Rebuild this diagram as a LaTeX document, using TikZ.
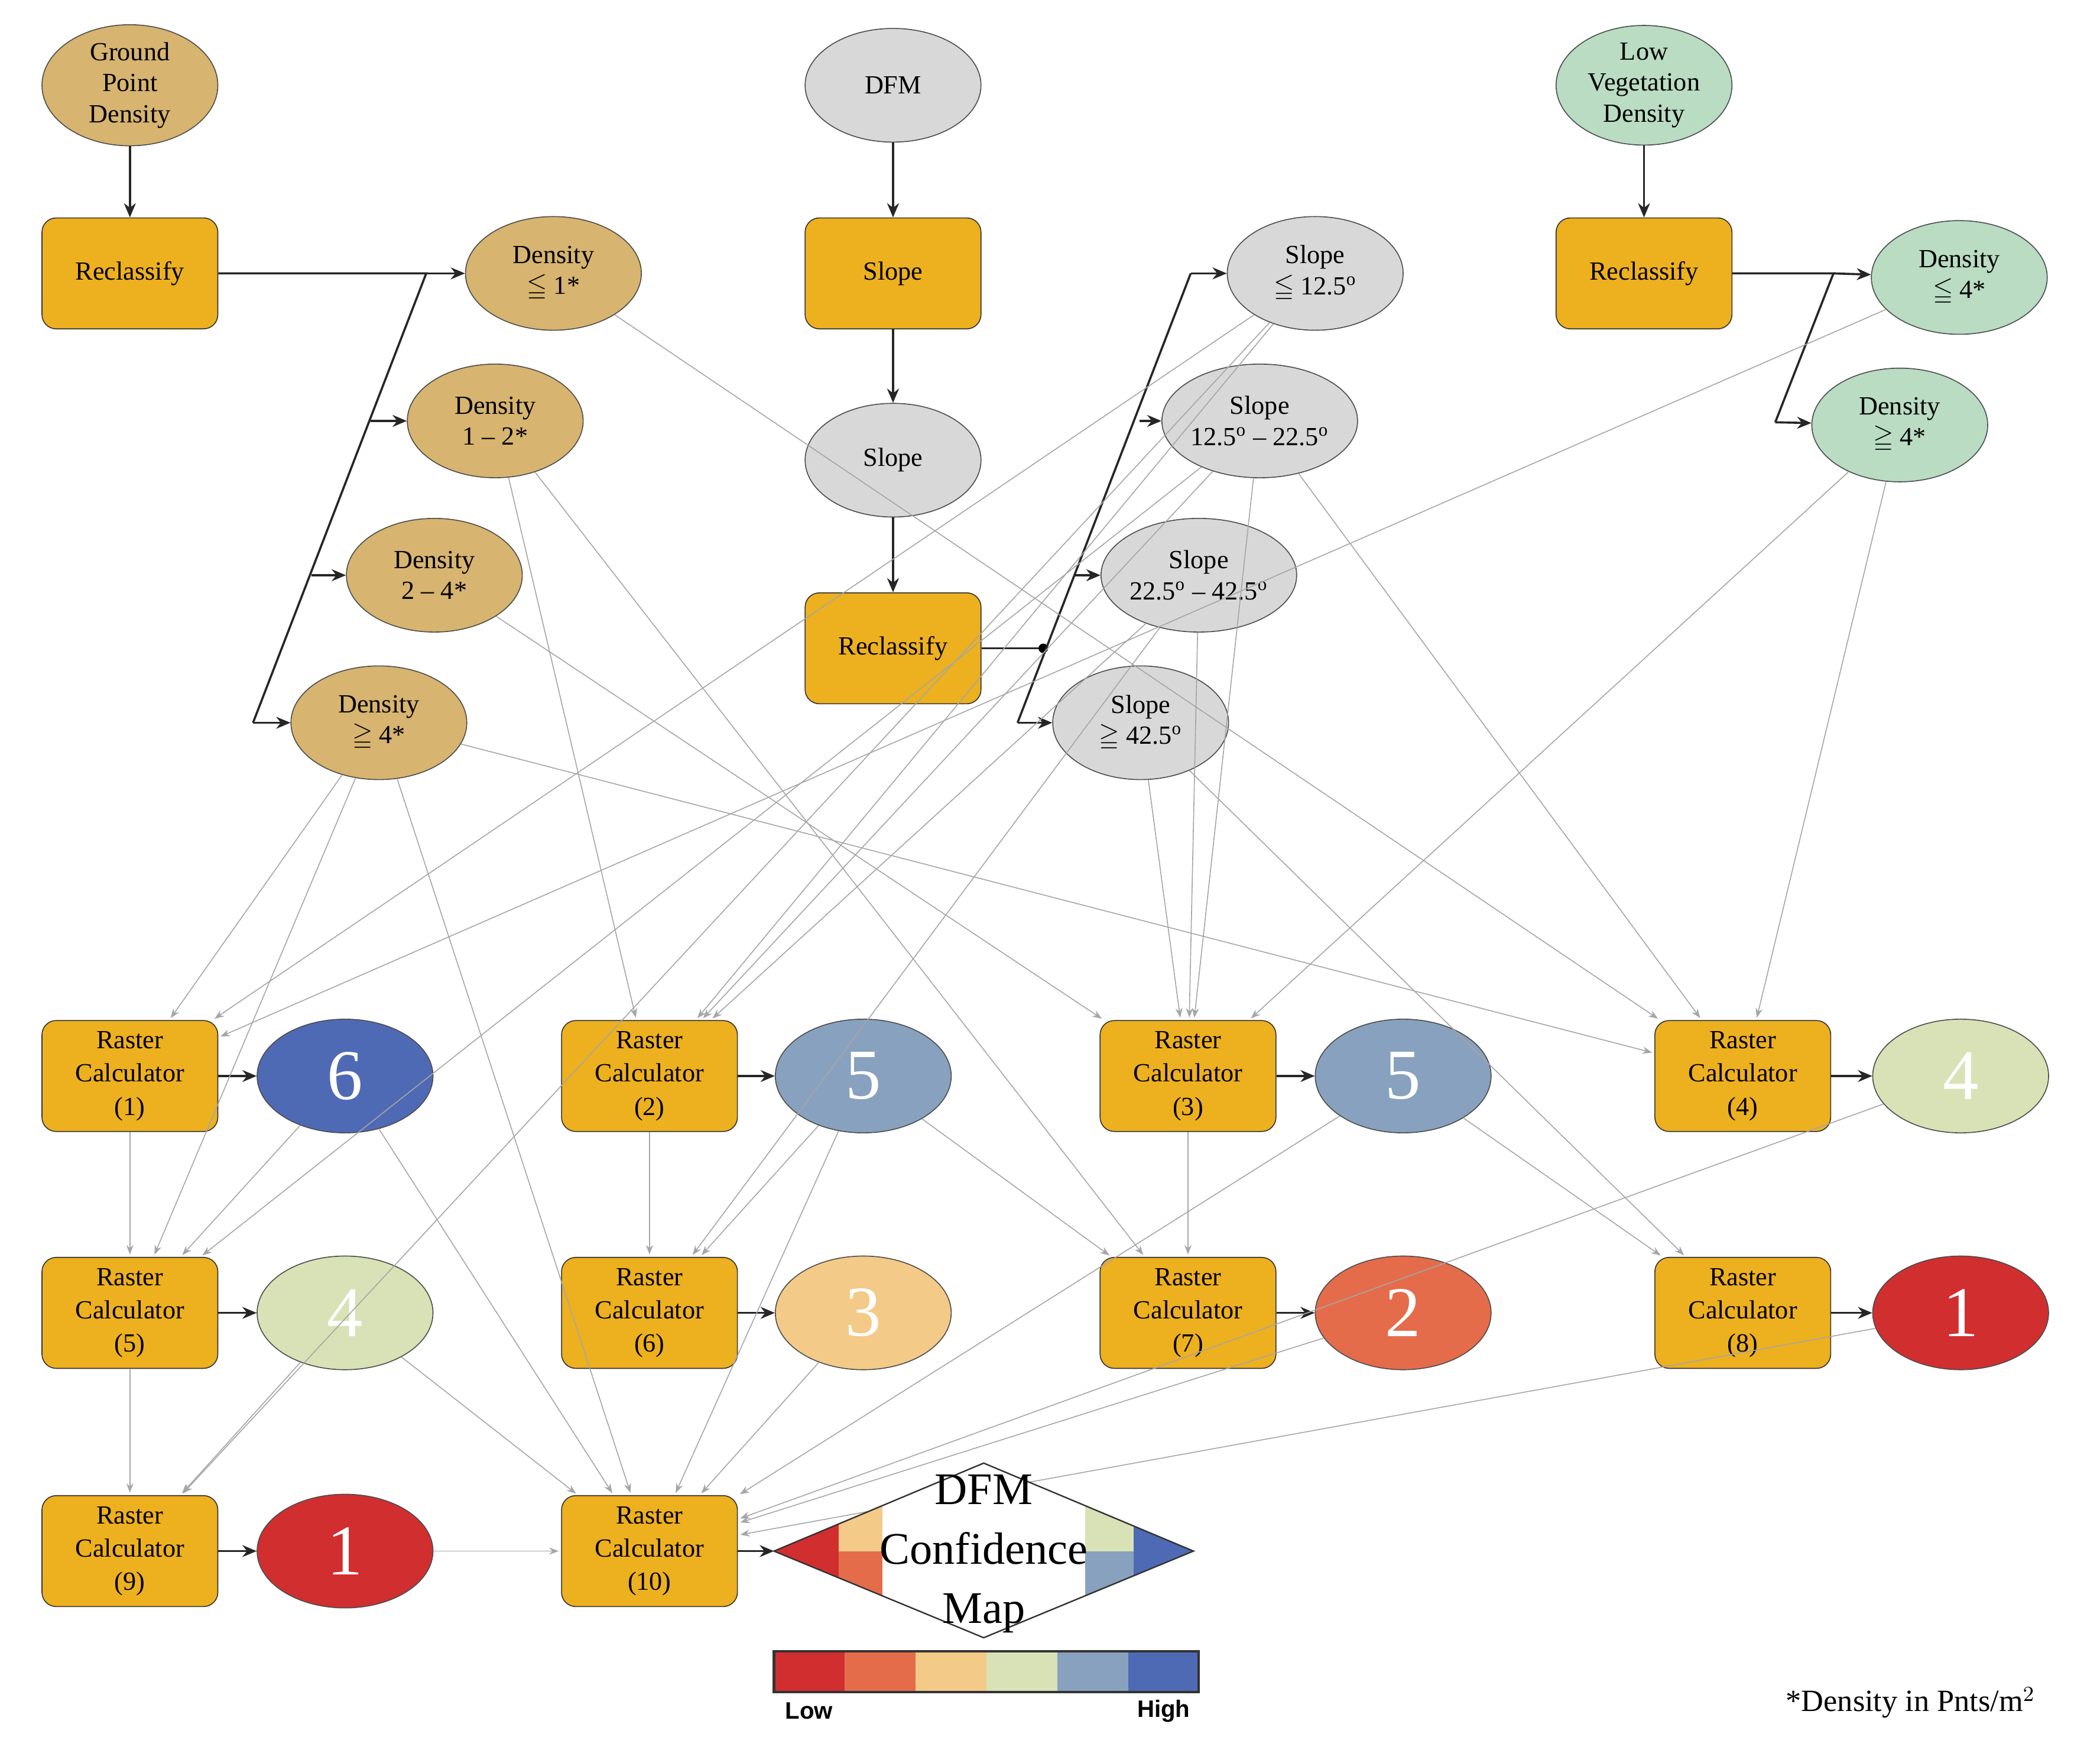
\documentclass[tikz,border=0pt]{standalone}
\usepackage{amssymb}
\usepackage{fontspec}
\setmainfont{Liberation Serif}
\newfontfamily\sansf{Liberation Sans}
\usetikzlibrary{arrows.meta,shapes.geometric}
\definecolor{cOr}{HTML}{EDB01F}
\definecolor{cTan}{HTML}{D7B46F}
\definecolor{cGr}{HTML}{D8D8D8}
\definecolor{cGn}{HTML}{B9DCC3}
\definecolor{cBl}{HTML}{4F6AB5}
\definecolor{cSt}{HTML}{88A1BE}
\definecolor{cLg}{HTML}{D8E2B6}
\definecolor{cPe}{HTML}{F4CA88}
\definecolor{cOa}{HTML}{E56C4B}
\definecolor{cRd}{HTML}{D12E30}
\tikzset{
 box/.style={draw=black!80,fill=cOr,rounded corners=6pt,minimum width=2.6cm,minimum height=1.64cm,align=center,font=\fontsize{11}{14}\selectfont},
 ell/.style={draw=black!70,ellipse,minimum width=2.6cm,minimum height=1.68cm,inner sep=0pt,align=center,font=\fontsize{11}{13}\selectfont},
 num/.style={ell,font=\fontsize{30}{30}\selectfont,text=white},
 blk/.style={draw=black!85,line width=0.9pt,-{Stealth[length=6pt,width=5pt]}},
 gry/.style={draw=black!35,line width=0.4pt,-{Stealth[length=4pt,width=3pt]},shorten >=1pt}
}
\begin{document}
\begin{tikzpicture}[x={(0.02cm,0)},y={(0,-0.02cm)}]
\useasboundingbox (0,0) rectangle (1552,1283);
% top
\node[ell,fill=cTan] (gpd) at (96,63) {Ground\\Point\\Density};
\node[box] (rc1a) at (96,202) {Reclassify};
\node[ell,fill=cTan] (d1) at (409,202) {Density\\$\leqq$ 1*};
\node[ell,fill=cTan] (d2) at (366,311) {Density\\1 -- 2*};
\node[ell,fill=cTan] (d3) at (321,425) {Density\\2 -- 4*};
\node[ell,fill=cTan] (d4) at (280,534) {Density\\$\geqq$ 4*};
\node[ell,fill=cGr] (dfm) at (660,63) {DFM};
\node[box] (slr) at (660,202) {Slope};
\node[ell,fill=cGr] (sle) at (660,340) {Slope};
\node[box] (rc2a) at (660,479) {Reclassify};
\node[ell,fill=cGr] (s1) at (972,202) {Slope\\$\leqq$ 12.5$^{\rm o}$};
\node[ell,fill=cGr] (s2) at (931,311) {Slope\\12.5$^{\rm o}$ -- 22.5$^{\rm o}$};
\node[ell,fill=cGr] (s3) at (886,425) {Slope\\22.5$^{\rm o}$ -- 42.5$^{\rm o}$};
\node[ell,fill=cGr] (s4) at (843,534) {Slope\\$\geqq$ 42.5$^{\rm o}$};
\node[ell,fill=cGn] (lvd) at (1215,63) {Low\\Vegetation\\Density};
\node[box] (rc3a) at (1215,202) {Reclassify};
\node[ell,fill=cGn] (v1) at (1448,205) {Density\\$\leqq$ 4*};
\node[ell,fill=cGn] (v2) at (1404,314) {Density\\$\geqq$ 4*};
% raster calculators
\node[box] (r1) at (96,795) {Raster\\Calculator\\(1)};
\node[num,fill=cBl] (n1) at (255,795) {6};
\node[box] (r2) at (480,795) {Raster\\Calculator\\(2)};
\node[num,fill=cSt] (n2) at (638,795) {5};
\node[box] (r3) at (878,795) {Raster\\Calculator\\(3)};
\node[num,fill=cSt] (n3) at (1037,795) {5};
\node[box] (r4) at (1288,795) {Raster\\Calculator\\(4)};
\node[num,fill=cLg] (n4) at (1449,795) {4};
\node[box] (r5) at (96,970) {Raster\\Calculator\\(5)};
\node[num,fill=cLg] (n5) at (255,970) {4};
\node[box] (r6) at (480,970) {Raster\\Calculator\\(6)};
\node[num,fill=cPe] (n6) at (638,970) {3};
\node[box] (r7) at (878,970) {Raster\\Calculator\\(7)};
\node[num,fill=cOa] (n7) at (1037,970) {2};
\node[box] (r8) at (1288,970) {Raster\\Calculator\\(8)};
\node[num,fill=cRd] (n8) at (1449,970) {1};
\node[box] (r9) at (96,1146) {Raster\\Calculator\\(9)};
\node[num,fill=cRd] (n9) at (255,1146) {1};
\node[box] (r10) at (480,1146) {Raster\\Calculator\\(10)};
% black connectors
\draw[blk] (gpd) -- (rc1a);
\draw[blk] (dfm) -- (slr);
\draw[blk] (slr) -- (sle);
\draw[blk] (sle) -- (rc2a);
\draw[blk] (lvd) -- (rc3a);
\coordinate (b1t) at (315,202); \coordinate (b1b) at (187,534);
\draw[draw=black!85,line width=0.9pt] (rc1a.east) -- (b1t) -- (b1b);
\draw[blk] (b1t) -- (d1);
\draw[blk] (274,311) -- (d2);
\draw[blk] (230,425) -- (d3);
\draw[blk] (b1b) -- (d4);
\coordinate (dot) at (771,479); \coordinate (b2t) at (880,202); \coordinate (b2b) at (752,534);
\draw[draw=black!85,line width=0.9pt] (rc2a.east) -- (dot);
\fill (dot) circle (3.5);
\draw[draw=black!85,line width=0.9pt] (b2t) -- (b2b);
\draw[blk] (b2t) -- (s1);
\draw[blk] (842,311) -- (s2);
\draw[blk] (794,425) -- (s3);
\draw[blk] (b2b) -- (s4);
\coordinate (b3t) at (1355,202); \coordinate (b3b) at (1312,312);
\draw[draw=black!85,line width=0.9pt] (rc3a.east) -- (b3t) -- (b3b);
\draw[blk] (b3t) -- (v1);
\draw[blk] (b3b) -- (v2);
\foreach \a/\b in {r1/n1,r2/n2,r3/n3,r4/n4,r5/n5,r6/n6,r7/n7,r8/n8,r9/n9}
  \draw[blk] (\a) -- (\b);
% gray connectors
\foreach \a/\b in {d4/r1,s1/r1,v1/r1,d2/r2,s1/r2,s2/r2,s3/r2,d3/r3,s3/r3,s4/r3,s2/r3,v2/r3,
  d4/r4,s2/r4,v2/r4,d1/r4,r1/r5,n1/r5,d4/r5,s2/r5,r2/r6,n2/r6,s3/r6,r3/r7,d2/r7,n2/r7,n3/r8,s4/r8,
  r5/r9,n5/r9,s1/r9,n1/r10,n5/r10,n9/r10,n6/r10,n2/r10,n3/r10,n7/r10,n8/r10,n4/r10,d4/r10}
  \draw[gry] (\a) -- (\b);
% diamond
\coordinate (dl) at (572,1146); \coordinate (dt) at (727,1081);
\coordinate (dr) at (882,1146); \coordinate (db) at (727,1210);
\begin{scope}
\clip (dl) -- (dt) -- (dr) -- (db) -- cycle;
\fill[white] (560,1070) rectangle (890,1220);
\fill[cRd] (560,1070) rectangle (620,1220);
\fill[cPe] (620,1070) rectangle (652,1146);
\fill[cOa] (620,1146) rectangle (652,1220);
\fill[cLg] (802,1070) rectangle (838,1146);
\fill[cSt] (802,1146) rectangle (838,1220);
\fill[cBl] (838,1070) rectangle (890,1220);
\end{scope}
\draw[black!80,line width=0.6pt] (dl) -- (dt) -- (dr) -- (db) -- cycle;
\node[align=center,font=\fontsize{19}{25}\selectfont,inner sep=1pt] (dtxt) at (727,1148) {DFM\\Confidence\\Map};
\draw[blk] (r10) -- (dl);
% colour bar
\foreach \c [count=\i from 0] in {cRd,cOa,cPe,cLg,cSt,cBl}
  \fill[\c] ({572+\i*52.33},1220) rectangle ({572+(\i+1)*52.33},1250);
\draw[black!80,line width=1pt] (572,1220) rectangle (886,1250);
\node[font=\sansf\bfseries\fontsize{10}{12}\selectfont] (lo) at (598,1264) {Low};
\node[font=\sansf\bfseries\fontsize{10}{12}\selectfont] (hi) at (860,1264) {High};
\node[font=\fontsize{13}{15}\selectfont] (note) at (1412,1258) {*Density in Pnts/m$^2$};
\end{tikzpicture}
\end{document}
